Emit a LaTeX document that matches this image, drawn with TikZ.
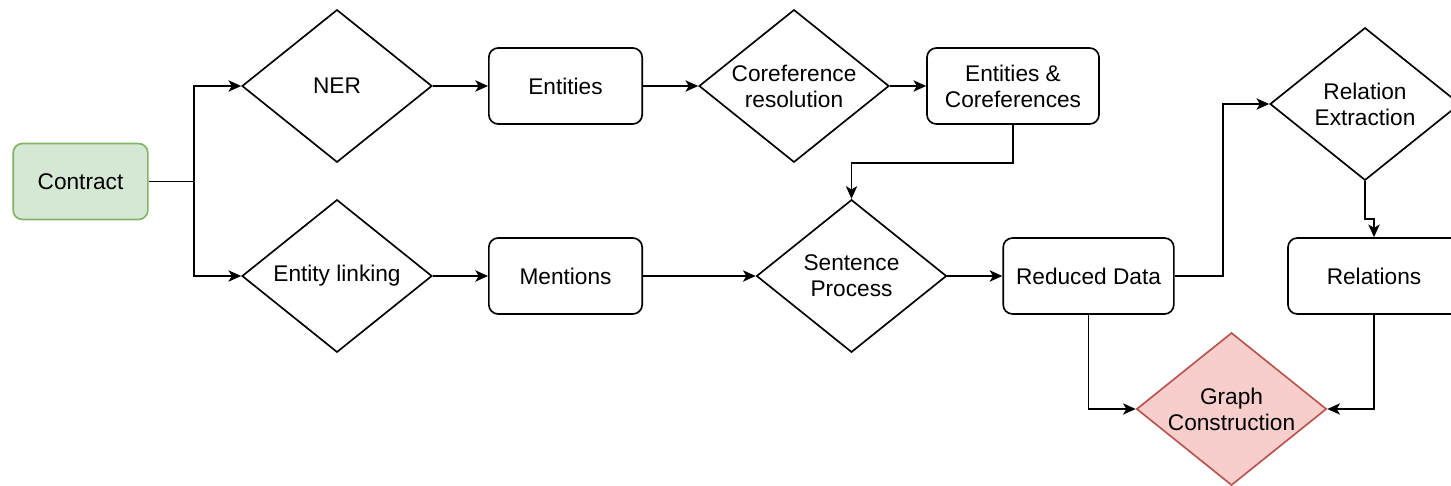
\documentclass[tikz,border=0pt]{standalone}
\usepackage{xcolor}
\usepackage{fontspec}
\setmainfont{Liberation Sans}
\usepackage{tikz}
\usetikzlibrary{shapes.geometric,arrows.meta}

\definecolor{greenFill}{RGB}{213,232,212}
\definecolor{greenLine}{RGB}{130,179,102}
\definecolor{redFill}{RGB}{248,206,204}
\definecolor{redLine}{RGB}{184,84,80}

\begin{document}
\begin{tikzpicture}[x=0.75pt,y=0.75pt,yscale=-1,xscale=1,
  every node/.style={font=\fontsize{17}{19.5}\selectfont, align=center},
  procbox/.style={draw, line width=1.25pt, rounded corners=7pt, fill=white, inner sep=0pt,
    minimum height=57pt},
  decide/.style={draw, line width=1.25pt, diamond, aspect=1.24, inner sep=0pt,
    minimum width=142.5pt, minimum height=114.5pt},
  link/.style={line width=1.25pt, -{Stealth[length=9.5pt,width=8.5pt,inset=2.5pt]}}]
\useasboundingbox (0,0) rectangle (1451,485);

% Text Node
\node [procbox, draw=greenLine, fill=greenFill, minimum width=101pt] (contract) at (80.5,181.5) {Contract};
% Decisions
\node [decide] (ner) at (337,86) {NER};
\node [decide] (elink) at (337,276) {Entity linking};
\node [decide] (coref) at (794,86) {Coreference\\resolution};
\node [decide] (sent) at (851.5,276) {Sentence\\Process};
\node [decide] (relext) at (1365,104) {Relation\\Extraction};
\node [decide, draw=redLine, fill=redFill] (graph) at (1231.5,409) {Graph\\Construction};
% Boxes
\node [procbox, minimum width=115pt] (ents) at (565.5,86) {Entities};
\node [procbox, minimum width=115pt] (ments) at (565.5,276) {Mentions};
\node [procbox, minimum width=129pt] (entcoref) at (1013,86) {Entities \&\\Coreferences};
\node [procbox, minimum width=128pt] (reduced) at (1088.5,276) {Reduced Data};
\node [procbox, minimum width=129pt] (rels) at (1374,276) {Relations};

%Straight Lines
\coordinate (split) at (194,181.5);
\draw [line width=1.25pt] (contract.east) -- (split);
\draw [link] (split) |- (ner.west);
\draw [link] (split) |- (elink.west);
\draw [link] (ner.east) -- (ents.west);
\draw [link] (ents.east) -- (coref.west);
\draw [link] (coref.east) -- (entcoref.west);
\draw [link] (elink.east) -- (ments.west);
\draw [link] (ments.east) -- (sent.west);
\draw [link] (entcoref.south) -- ++(0,38) -| (sent.north);
\draw [link] (sent.east) -- (reduced.west);
\draw [link] (reduced.east) -- ++(48,0) |- (relext.west);
\draw [link] (relext.south) -- ++(0,38) -| (rels.north);
\draw [link] (reduced.south) |- (graph.west);
\draw [link] (rels.south) |- (graph.east);

\end{tikzpicture}
\end{document}
